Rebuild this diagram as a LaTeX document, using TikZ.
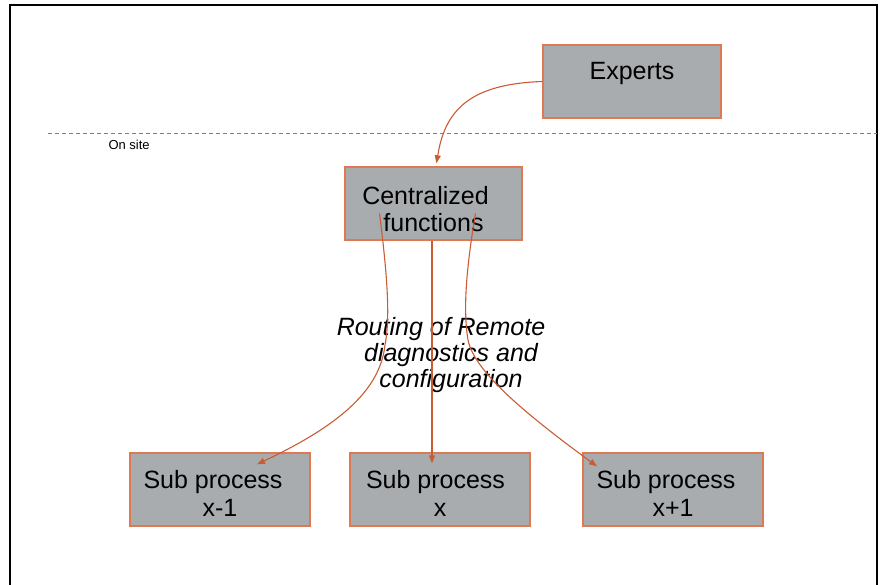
\documentclass[tikz,border=0pt]{standalone}
\usepackage{fontspec}
\setmainfont{Liberation Sans}
\usepackage{xcolor}
\usetikzlibrary{positioning,calc,arrows.meta}
\definecolor{boxgray}{RGB}{169,172,175}
\definecolor{boxedge}{RGB}{221,122,84}
\definecolor{routeline}{RGB}{201,92,52}
\newcommand{\boxlines}[2][0pt]{\raisebox{#1}[\height][\depth]{\begin{tabular}{@{}c@{}}#2\end{tabular}}}

\begin{document}
\begin{tikzpicture}[x=1pt,y=-1pt,
    unit/.style={draw=boxedge, fill=boxgray, line width=1.4pt, minimum width=180pt, minimum height=73pt, inner sep=0pt, font=\fontsize{25}{27.5}\selectfont},
    route/.style={draw=routeline, line width=1.1pt, -{Triangle[length=8pt,width=6pt]}}]
    \useasboundingbox (0,0) rectangle (882,585);

    % Frame
    \draw[line width=2.8pt] (10,585) -- (10,5) -- (877,5) -- (877,585);

    % Site border
    \draw[gray, line width=0.9pt, dash pattern=on 4pt off 3pt] (48,133) -- (877,133);
    \node[anchor=west, font=\fontsize{13}{15}\selectfont] (onsite) at (105,145) {On site};

    % Boxes
    \node[unit, minimum width=178pt, text height=18pt, text depth=21pt] (exp) at (632,81.5) {Experts};
    \node[unit, minimum width=177pt] (cent) at (433.5,203.5) {\boxlines[-9pt]{Centralized\hspace*{16pt}\\functions}};
    \node[unit] (sub1) at (220,489.5) {\boxlines[-7.5pt]{Sub process\hspace*{14pt}\\x-1}};
    \node[unit] (subx) at (440,489.5) {\boxlines[-7.5pt]{Sub process\hspace*{9pt}\\x}};
    \node[unit] (sub2) at (673,489.5) {\boxlines[-7.5pt]{Sub process\hspace*{14pt}\\x+1}};

    % Label
    \node[align=center, font=\itshape\fontsize{25}{26}\selectfont] (routing) at (451,355) {Routing of Remote\hspace*{20pt}\\diagnostics and\\configuration};

    % Connectors
    \draw[route] (exp.west) .. controls (470,84) and (445,110) .. ($(cent.north)+(3,-3)$);
    \draw[route] ($(cent.center)+(-54,10)$) .. controls (388,280) and (390,320) .. (385,345) .. controls (380,390) and (340,425) .. ($(sub1.north)+(37,12)$);
    \draw[route] ($(cent.south)+(-1.5,0)$) -- ($(subx.north)+(-8,11)$);
    \draw[route] ($(cent.center)+(42,10)$) .. controls (466,270) and (463,310) .. (468,340) .. controls (474,370) and (520,410) .. ($(sub2.north)+(-76,14)$);
\end{tikzpicture}
\end{document}
